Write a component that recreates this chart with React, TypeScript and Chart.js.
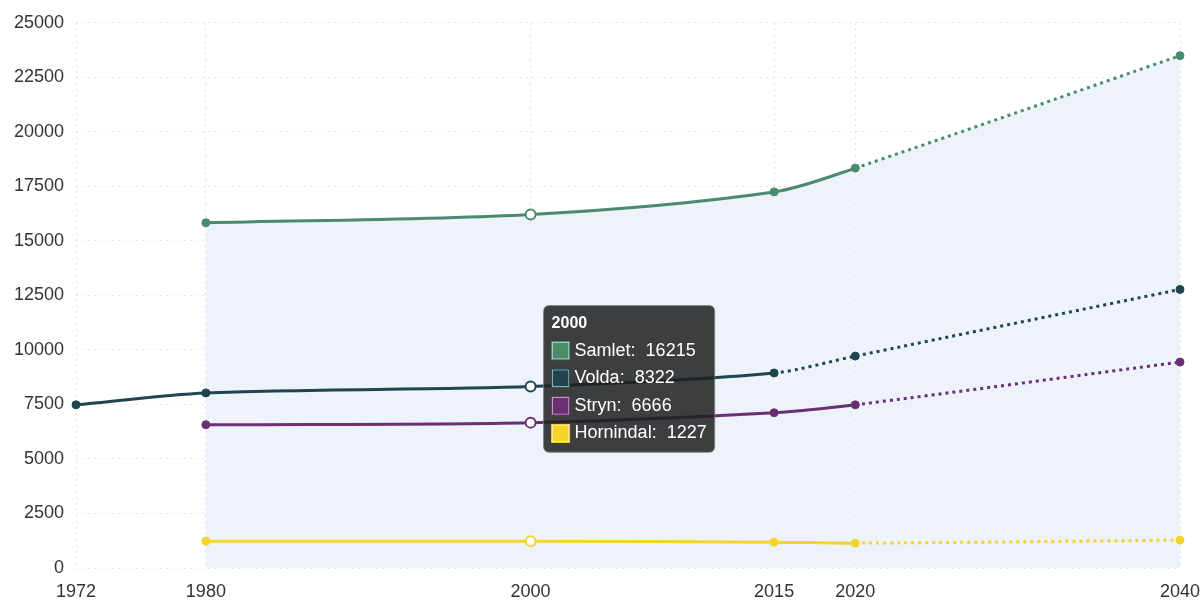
import React, { useEffect, useRef } from "react";
import { Chart, registerables, Tooltip } from "chart.js";

Chart.register(...registerables);

const years = [1972, 1980, 2000, 2015, 2020, 2040];
const seriesNames = ["Samlet", "Volda", "Stryn", "Hornindal"];
const samlet = [null, 15830, 16215, 17245, 18339, 23494];
const volda = [7482, 8029, 8322, 8942, 9717, 12774];
const stryn = [null, 6569, 6666, 7117, 7482, 9443];
const hornindal = [null, 1232, 1227, 1186, 1140, 1277];
const yTicks = [0, 2500, 5000, 7500, 10000, 12500, 15000, 17500, 20000, 22500, 25000];
const activeYear = 2000;
const tooltipAnchorValue = 8670;

const seriesValues = [samlet, volda, stryn, hornindal];
const colors = ["#4a8a6d", "#1f4550", "#6b2f73", "#f5d328"];
const dashFrom = [2020, 2015, 2020, 2020];

(Tooltip.positioners as any).atEvent = function (_els: any, pos: any) {
  return pos;
};

export default function App() {
  const ref = useRef<HTMLCanvasElement | null>(null);

  useEffect(() => {
    document.body.style.margin = "0";
    const canvas = ref.current!;
    const datasets = seriesNames.map((name, i) => ({
      label: name,
      data: years.map((x, j) => ({ x, y: seriesValues[i][j] })),
      borderColor: colors[i],
      backgroundColor: i === 0 ? "rgba(232,238,248,0.75)" : colors[i],
      fill: i === 0 ? "origin" : false,
      borderWidth: 3,
      tension: 0.3,
      clip: false,
      pointRadius: 4,
      pointBackgroundColor: colors[i],
      pointBorderColor: colors[i],
      pointBorderWidth: 1,
      pointHoverRadius: 5,
      pointHoverBackgroundColor: "#ffffff",
      pointHoverBorderColor: colors[i],
      pointHoverBorderWidth: 2,
      segment: {
        borderDash: (ctx: any) => (ctx.p0.parsed.x >= dashFrom[i] ? [3, 4] : undefined),
      },
      order: i === 0 ? 4 : i,
    }));

    const chart = new Chart(canvas, {
      type: "line",
      data: { datasets },
      options: {
        responsive: false,
        animation: false,
        layout: { padding: { left: 0, right: 24, top: 12, bottom: 0 } },
        interaction: { mode: "index", intersect: false },
        plugins: {
          legend: { display: false },
          tooltip: {
            enabled: true,
            position: "atEvent" as any,
            backgroundColor: "rgba(30,30,30,0.85)",
            borderColor: "rgba(120,120,120,0.8)",
            borderWidth: 1,
            cornerRadius: 6,
            caretSize: 0,
            caretPadding: 13,
            padding: 8,
            titleFont: { family: "Liberation Sans, Arial, sans-serif", size: 16, weight: "bold" },
            bodyFont: { family: "Liberation Sans, Arial, sans-serif", size: 18 },
            titleMarginBottom: 7,
            bodySpacing: 6,
            boxWidth: 18,
            boxHeight: 18,
            boxPadding: 3,
            itemSort: (a: any, b: any) => a.datasetIndex - b.datasetIndex,
            callbacks: {
              title: (items: any) => String(items[0].parsed.x),
              label: (item: any) => `${item.dataset.label}:  ${item.parsed.y}`,
              labelColor: (item: any) => ({
                borderColor: colors[item.datasetIndex],
                backgroundColor: colors[item.datasetIndex],
                borderWidth: 0,
              }),
            },
          },
        },
        scales: {
          x: {
            type: "linear",
            min: years[0],
            max: years[years.length - 1],
            afterBuildTicks: (scale: any) => {
              scale.ticks = years.map((v) => ({ value: v }));
            },
            afterFit: (scale: any) => {
              scale.height = 32;
              scale.paddingLeft = 0;
              scale.paddingRight = 0;
            },
            ticks: {
              autoSkip: false,
              maxRotation: 0,
              padding: 13,
              color: "#333",
              font: { family: "Liberation Sans, Arial, sans-serif", size: 18 },
              callback: (v: any) => String(v),
            },
            grid: {
              color: "rgba(0,0,0,0.12)",
              drawTicks: false,
            },
            border: { display: false, dash: [2, 4] },
          },
          y: {
            min: 0,
            max: 25000,
            afterBuildTicks: (scale: any) => {
              scale.ticks = yTicks.map((v) => ({ value: v }));
            },
            afterFit: (scale: any) => {
              scale.width = 76;
            },
            ticks: {
              padding: 12,
              color: "#333",
              font: { family: "Liberation Sans, Arial, sans-serif", size: 18 },
              callback: (v: any) => String(v),
            },
            grid: {
              color: "rgba(0,0,0,0.09)",
              drawTicks: false,
            },
            border: { display: false, dash: [2, 4] },
          },
        },
      },
    });

    const xIdx = years.indexOf(activeYear);
    const active = seriesNames.map((_, i) => ({ datasetIndex: i, index: xIdx }));
    const xs: any = chart.scales.x;
    const ys: any = chart.scales.y;
    chart.setActiveElements(active);
    chart.tooltip!.setActiveElements(active, {
      x: xs.getPixelForValue(activeYear),
      y: ys.getPixelForValue(tooltipAnchorValue),
    });
    chart.update();

    return () => chart.destroy();
  }, []);

  return (
    <div style={{ width: 1204, height: 600 }}>
      <canvas ref={ref} width={1204} height={600} style={{ width: 1204, height: 600 }} />
    </div>
  );
}
